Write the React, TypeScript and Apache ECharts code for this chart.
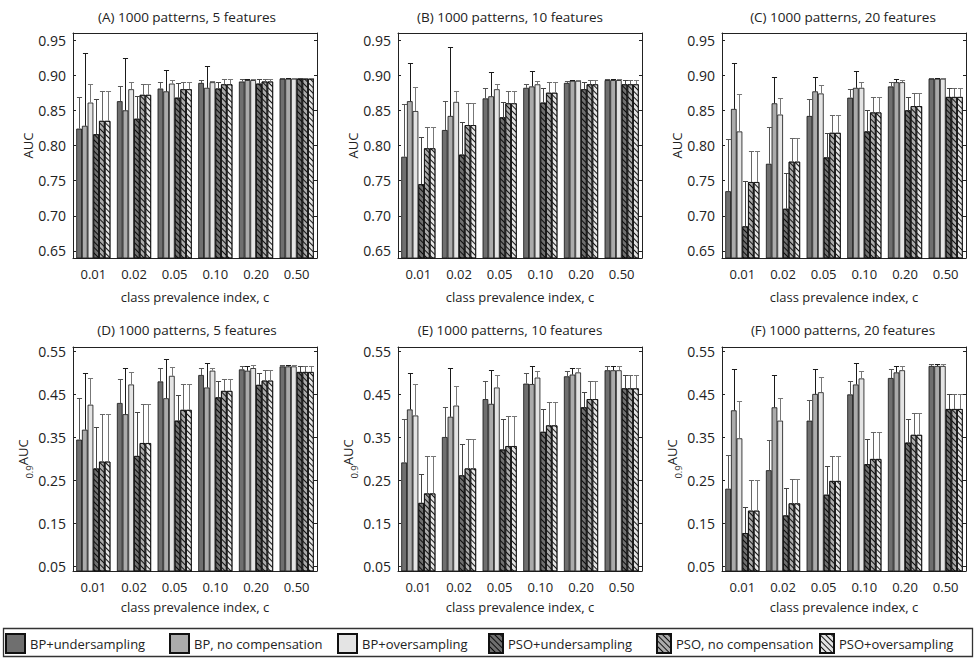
import React, { useEffect, useRef } from "react";
import * as echarts from "echarts";

const CATEGORIES = ["0.01", "0.02", "0.05", "0.10", "0.20", "0.50"];
const SERIES_NAMES = [
  "BP+undersampling",
  "BP, no compensation",
  "BP+oversampling",
  "PSO+undersampling",
  "PSO, no compensation",
  "PSO+oversampling",
];
const TOP_TICKS = [0.65, 0.7, 0.75, 0.8, 0.85, 0.9, 0.95];
const BOTTOM_TICKS = [0.05, 0.15, 0.25, 0.35, 0.45, 0.55];

// rows = class prevalence index, columns = the six methods
const A_MEAN = [
  [0.824, 0.828, 0.861, 0.816, 0.835, 0.835],
  [0.863, 0.85, 0.88, 0.838, 0.872, 0.872],
  [0.881, 0.877, 0.888, 0.868, 0.88, 0.88],
  [0.889, 0.882, 0.89, 0.881, 0.887, 0.887],
  [0.891, 0.893, 0.893, 0.888, 0.891, 0.891],
  [0.895, 0.895, 0.895, 0.895, 0.895, 0.895],
];
const A_UPPER = [
  [0.869, 0.931, 0.888, 0.866, 0.877, 0.877],
  [0.885, 0.924, 0.891, 0.87, 0.888, 0.888],
  [0.891, 0.908, 0.893, 0.889, 0.89, 0.89],
  [0.893, 0.913, 0.892, 0.89, 0.895, 0.895],
  [0.894, 0.895, 0.894, 0.894, 0.894, 0.894],
  [0.896, 0.896, 0.896, 0.896, 0.896, 0.896],
];
const B_MEAN = [
  [0.784, 0.863, 0.849, 0.745, 0.796, 0.796],
  [0.822, 0.842, 0.862, 0.787, 0.829, 0.829],
  [0.867, 0.87, 0.88, 0.84, 0.86, 0.86],
  [0.882, 0.884, 0.887, 0.861, 0.875, 0.875],
  [0.889, 0.892, 0.892, 0.88, 0.887, 0.887],
  [0.893, 0.893, 0.893, 0.887, 0.887, 0.887],
];
const B_UPPER = [
  [0.859, 0.918, 0.883, 0.812, 0.826, 0.826],
  [0.863, 0.94, 0.878, 0.833, 0.86, 0.86],
  [0.882, 0.905, 0.888, 0.862, 0.878, 0.878],
  [0.888, 0.906, 0.892, 0.882, 0.89, 0.89],
  [0.892, 0.893, 0.893, 0.89, 0.893, 0.893],
  [0.894, 0.894, 0.894, 0.893, 0.893, 0.893],
];
const C_MEAN = [
  [0.735, 0.852, 0.82, 0.685, 0.748, 0.748],
  [0.774, 0.86, 0.844, 0.71, 0.777, 0.777],
  [0.842, 0.877, 0.874, 0.783, 0.818, 0.818],
  [0.868, 0.882, 0.882, 0.82, 0.847, 0.847],
  [0.884, 0.89, 0.89, 0.85, 0.856, 0.856],
  [0.895, 0.895, 0.895, 0.869, 0.869, 0.869],
];
const C_UPPER = [
  [0.809, 0.917, 0.873, 0.749, 0.792, 0.792],
  [0.826, 0.897, 0.868, 0.761, 0.81, 0.81],
  [0.866, 0.898, 0.886, 0.818, 0.843, 0.843],
  [0.881, 0.906, 0.89, 0.85, 0.869, 0.869],
  [0.89, 0.894, 0.893, 0.869, 0.875, 0.875],
  [0.896, 0.896, 0.896, 0.882, 0.882, 0.882],
];
const D_MEAN = [
  [0.345, 0.368, 0.426, 0.278, 0.294, 0.294],
  [0.43, 0.404, 0.473, 0.307, 0.337, 0.337],
  [0.48, 0.441, 0.493, 0.389, 0.414, 0.414],
  [0.495, 0.466, 0.505, 0.443, 0.458, 0.458],
  [0.508, 0.505, 0.511, 0.472, 0.482, 0.482],
  [0.515, 0.515, 0.515, 0.502, 0.502, 0.502],
];
const D_UPPER = [
  [0.442, 0.5, 0.487, 0.374, 0.405, 0.405],
  [0.485, 0.512, 0.503, 0.408, 0.428, 0.428],
  [0.512, 0.532, 0.513, 0.448, 0.473, 0.473],
  [0.512, 0.524, 0.512, 0.482, 0.486, 0.486],
  [0.516, 0.516, 0.518, 0.499, 0.506, 0.506],
  [0.518, 0.518, 0.518, 0.517, 0.517, 0.517],
];
const E_MEAN = [
  [0.292, 0.415, 0.401, 0.198, 0.22, 0.22],
  [0.351, 0.398, 0.424, 0.262, 0.278, 0.278],
  [0.439, 0.428, 0.466, 0.322, 0.33, 0.33],
  [0.475, 0.474, 0.489, 0.363, 0.378, 0.378],
  [0.492, 0.496, 0.501, 0.42, 0.439, 0.439],
  [0.506, 0.506, 0.506, 0.464, 0.464, 0.464],
];
const E_UPPER = [
  [0.393, 0.5, 0.474, 0.265, 0.308, 0.308],
  [0.42, 0.512, 0.47, 0.335, 0.346, 0.346],
  [0.48, 0.507, 0.496, 0.392, 0.4, 0.4],
  [0.5, 0.515, 0.505, 0.417, 0.432, 0.432],
  [0.505, 0.511, 0.511, 0.455, 0.482, 0.482],
  [0.515, 0.515, 0.515, 0.494, 0.494, 0.494],
];
const F_MEAN = [
  [0.231, 0.413, 0.348, 0.128, 0.18, 0.18],
  [0.274, 0.42, 0.389, 0.169, 0.197, 0.197],
  [0.389, 0.451, 0.455, 0.217, 0.249, 0.249],
  [0.45, 0.473, 0.487, 0.288, 0.3, 0.3],
  [0.488, 0.501, 0.506, 0.338, 0.356, 0.356],
  [0.516, 0.516, 0.516, 0.416, 0.416, 0.416],
];
const F_UPPER = [
  [0.31, 0.509, 0.434, 0.189, 0.251, 0.251],
  [0.344, 0.494, 0.442, 0.233, 0.254, 0.254],
  [0.438, 0.509, 0.491, 0.284, 0.307, 0.307],
  [0.481, 0.524, 0.505, 0.347, 0.363, 0.363],
  [0.508, 0.517, 0.516, 0.394, 0.406, 0.406],
  [0.521, 0.521, 0.521, 0.451, 0.451, 0.451],
];

const TITLES = [
  "(A) 1000 patterns, 5 features",
  "(B) 1000 patterns, 10 features",
  "(C) 1000 patterns, 20 features",
  "(D) 1000 patterns, 5 features",
  "(E) 1000 patterns, 10 features",
  "(F) 1000 patterns, 20 features",
];

const FONT = "'Open Sans', 'Noto Sans', sans-serif";
const FILLS = ["#6f6f6f", "#ababab", "#e4e4e4", "#6f6f6f", "#ababab", "#e4e4e4"];
const ERR_COLORS = ["#555", "#1a1a1a", "#777", "#444", "#666", "#777"];
const GAP = 0.16;
const GRID_LEFTS = [73, 398, 722];
const TITLE_X = [187, 510, 843];
const GRID_W = 244;
const LEGEND_X = [5, 169, 337, 488, 656, 819];

const HATCH = {
  symbol: "rect",
  symbolSize: 1,
  dashArrayX: [1, 0],
  dashArrayY: [1, 2.8],
  rotation: Math.PI / 4,
  color: "rgba(0,0,0,0.9)",
};

function buildOption() {
  const panels = [
    { mean: A_MEAN, upper: A_UPPER, row: 0 },
    { mean: B_MEAN, upper: B_UPPER, row: 0 },
    { mean: C_MEAN, upper: C_UPPER, row: 0 },
    { mean: D_MEAN, upper: D_UPPER, row: 1 },
    { mean: E_MEAN, upper: E_UPPER, row: 1 },
    { mean: F_MEAN, upper: F_UPPER, row: 1 },
  ];
  const grid: any[] = [];
  const xAxis: any[] = [];
  const yAxis: any[] = [];
  const series: any[] = [];
  const graphic: any[] = [];
  const lineStyle = { color: "#222", width: 1 };

  panels.forEach((p, g) => {
    const col = g % 3;
    const top = p.row === 0 ? 33 : 347;
    const height = p.row === 0 ? 225 : 224;
    const ticks = p.row === 0 ? TOP_TICKS : BOTTOM_TICKS;
    const min = p.row === 0 ? 0.64 : 0.04;
    const max = p.row === 0 ? 0.96 : 0.56;
    grid.push({ left: GRID_LEFTS[col], top, width: GRID_W, height });
    xAxis.push({
      gridIndex: g,
      type: "category",
      data: CATEGORIES,
      position: "bottom",
      axisLine: { onZero: false, lineStyle },
      axisTick: { inside: true, alignWithLabel: true, length: 3, lineStyle },
      axisLabel: { fontSize: 13, color: "#222", margin: 9, fontFamily: FONT },
      name: "class prevalence index, c",
      nameLocation: "middle",
      nameGap: p.row === 0 ? 32 : 29,
      nameTextStyle: { fontSize: 13, color: "#222", fontFamily: FONT },
    });
    xAxis.push({
      gridIndex: g,
      type: "category",
      data: CATEGORIES,
      position: "top",
      axisLine: { onZero: false, lineStyle },
      axisTick: { inside: true, alignWithLabel: true, length: 3, lineStyle },
      axisLabel: { show: false },
    });
    yAxis.push({
      gridIndex: g,
      type: "value",
      min,
      max,
      position: "left",
      axisLine: { show: true, lineStyle },
      axisTick: { show: true, inside: true, length: 3, lineStyle, customValues: ticks },
      axisLabel: {
        customValues: ticks,
        formatter: (v: number) => v.toFixed(2),
        fontSize: 14,
        color: "#222",
        margin: 7,
        fontFamily: FONT,
      },
      splitLine: { show: false },
      name: p.row === 0 ? "AUC" : "{s|0.9}{a|AUC}",
      nameLocation: "middle",
      nameGap: p.row === 0 ? 38 : 36,
      nameTextStyle:
        p.row === 0
          ? { fontSize: 13, color: "#222", fontFamily: FONT }
          : {
              color: "#222",
              fontFamily: FONT,
              rich: {
                a: { fontSize: 13, lineHeight: 22, verticalAlign: "middle", fontFamily: FONT, color: "#222" },
                s: { fontSize: 9.5, lineHeight: 22, verticalAlign: "bottom", fontFamily: FONT, color: "#222" },
              },
            },
    });
    yAxis.push({
      gridIndex: g,
      type: "value",
      min,
      max,
      position: "right",
      axisLine: { show: true, lineStyle },
      axisTick: { show: true, inside: true, length: 3, lineStyle, customValues: ticks },
      axisLabel: { show: false },
      splitLine: { show: false },
    });

    for (let s = 0; s < 6; s++) {
      series.push({
        type: "bar",
        name: SERIES_NAMES[s],
        xAxisIndex: 2 * g,
        yAxisIndex: 2 * g,
        data: p.mean.map((row) => row[s]),
        barCategoryGap: "16%",
        barGap: "0%",
        clip: true,
        silent: true,
        itemStyle: {
          color: FILLS[s],
          borderColor: "#111",
          borderWidth: 0.8,
          ...(s >= 3 ? { decal: HATCH } : {}),
        },
      });
    }

    const errData: number[][] = [];
    p.mean.forEach((row, c) => {
      row.forEach((m, s) => errData.push([c, s, p.upper[c][s], m]));
    });
    series.push({
      type: "custom",
      xAxisIndex: 2 * g,
      yAxisIndex: 2 * g,
      data: errData,
      encode: { x: 0, y: [2, 3] },
      z: 5,
      silent: true,
      renderItem: (params: any, api: any) => {
        const c = api.value(0);
        const s = api.value(1);
        const up = api.value(2);
        const m = api.value(3);
        const band = api.size([1, 0])[0];
        const groupW = band * (1 - GAP);
        const bw = groupW / 6;
        const base = api.coord([c, m]);
        const tp = api.coord([c, up]);
        const x = Math.round(base[0] - groupW / 2 + (s + 0.5) * bw) + 0.5;
        const yTop = Math.round(tp[1]) + 0.5;
        const capHalf = bw * 0.45;
        const col = ERR_COLORS[s];
        return {
          type: "group",
          children: [
            { type: "line", shape: { x1: x, y1: base[1], x2: x, y2: yTop }, style: { stroke: col, lineWidth: 1 } },
            { type: "line", shape: { x1: x - capHalf, y1: yTop, x2: x + capHalf, y2: yTop }, style: { stroke: col, lineWidth: 1 } },
          ],
        };
      },
    });

    graphic.push({
      type: "text",
      x: TITLE_X[col],
      y: p.row === 0 ? 17 : 330,
      style: {
        text: TITLES[g],
        align: "center",
        verticalAlign: "middle",
        fontSize: 13.5,
        fontFamily: FONT,
        fill: "#222",
      },
    });
  });

  graphic.push({
    type: "rect",
    shape: { x: 3.5, y: 628.5, width: 969, height: 28 },
    style: { fill: "none", stroke: "#333", lineWidth: 1.3 },
    z: 10,
  });

  const legend = SERIES_NAMES.map((n, i) => ({
    data: [n],
    left: LEGEND_X[i],
    top: 633,
    padding: 0,
    itemGap: 0,
    icon: "rect",
    itemWidth: i < 3 ? 19 : 14,
    itemHeight: 19,
    selectedMode: false,
    textStyle: { fontSize: 13, color: "#222", fontFamily: FONT },
  }));

  return {
    animation: false,
    backgroundColor: "#fff",
    grid,
    xAxis,
    yAxis,
    series,
    legend,
    graphic,
  };
}

export default function App() {
  const ref = useRef<HTMLDivElement>(null);
  useEffect(() => {
    const chart = echarts.init(ref.current!, null, { renderer: "svg" });
    chart.setOption(buildOption() as any);
    return () => chart.dispose();
  }, []);
  return (
    <div
      ref={ref}
      style={{ position: "fixed", left: 0, top: 0, width: 976, height: 660, background: "#fff" }}
    />
  );
}
